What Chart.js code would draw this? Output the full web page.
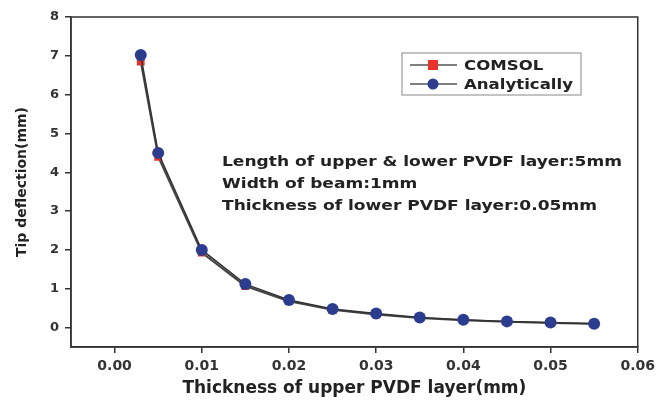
<!DOCTYPE html>
<html>
<head>
<meta charset="utf-8">
<script src="https://cdn.jsdelivr.net/npm/chart.js@4/dist/chart.umd.min.js"></script>
<style>
  html, body { margin: 0; padding: 0; background: #fff; }
  #wrap { width: 660px; height: 403px; }
</style>
</head>
<body>
<div id="wrap"><canvas id="chart" width="660" height="403"></canvas></div>
<script>
// data
var thickness = [0.003, 0.005, 0.010, 0.015, 0.020, 0.025, 0.030, 0.035, 0.040, 0.045, 0.050, 0.055];
var comsol = [6.85, 4.40, 1.93, 1.07, 0.68, 0.46, 0.34, 0.25, 0.19, 0.15, 0.12, 0.10];
var analytic = [7.02, 4.50, 2.00, 1.12, 0.71, 0.48, 0.36, 0.26, 0.20, 0.16, 0.13, 0.10];
var xTicks = [0, 0.01, 0.02, 0.03, 0.04, 0.05, 0.06];
var yTicks = [0, 1, 2, 3, 4, 5, 6, 7, 8];
var notes = [
   "Length of upper & lower PVDF layer:5mm",
   "Width of beam:1mm",
   "Thickness of lower PVDF layer:0.05mm"
];

var FONT = "'DejaVu Sans', 'Liberation Sans', sans-serif";
var AXIS = "#333";
var RED = "#e8332b", NAVY = "#2c3c8e";

function pts(xs, ys) {
   return xs.map(function(x, i) { return { x: x, y: ys[i] }; });
}

// text drawn a bit wider than the font, like the scanned figure
function wideText(ctx, text, x, y, sx) {
   ctx.save();
   ctx.translate(x, y);
   ctx.scale(sx, 1);
   ctx.fillText(text, 0, 0);
   ctx.restore();
}

// frame, legend and the text block
var extras = {
   id: 'extras',
   afterDraw: function(chart) {
      var ctx = chart.ctx, a = chart.chartArea;
      ctx.save();
      ctx.strokeStyle = AXIS;
      ctx.lineWidth = 1.5;
      ctx.strokeRect(a.left, a.top, a.right - a.left, a.bottom - a.top);

      // legend
      var lx = 402, ly = 53, lw = 179, lh = 42;
      ctx.lineWidth = 1;
      ctx.strokeStyle = "#888";
      ctx.strokeRect(lx, ly, lw, lh);
      ctx.font = "bold 14px " + FONT;
      var legSx = 109 / ctx.measureText("Analytically").width;
      var rows = [
         { label: "COMSOL", color: RED, shape: "rect" },
         { label: "Analytically", color: NAVY, shape: "circle" }
      ];
      rows.forEach(function(r, i) {
         var cy = ly + 12 + i * 19;
         ctx.strokeStyle = "#555";
         ctx.lineWidth = 1.5;
         ctx.beginPath();
         ctx.moveTo(lx + 8, cy);
         ctx.lineTo(lx + 55, cy);
         ctx.stroke();
         ctx.fillStyle = r.color;
         if (r.shape === "rect") {
            ctx.fillRect(lx + 26, cy - 5, 10, 10);
         } else {
            ctx.beginPath();
            ctx.arc(lx + 31, cy, 5.5, 0, Math.PI * 2);
            ctx.fill();
         }
         ctx.fillStyle = "#222";
         ctx.textBaseline = "middle";
         ctx.textAlign = "left";
         wideText(ctx, r.label, lx + 62, cy + 1, legSx);
      });

      // notes
      ctx.fillStyle = "#222";
      ctx.font = "bold 14px " + FONT;
      ctx.textBaseline = "middle";
      var noteSx = 400 / ctx.measureText(notes[0]).width;
      notes.forEach(function(t, i) {
         wideText(ctx, t, 222, 162 + i * 22, noteSx);
      });
      ctx.restore();
   }
};

new Chart(document.getElementById('chart'), {
   type: 'line',
   data: {
      datasets: [{
         label: "COMSOL",
         data: pts(thickness, comsol),
         order: 1,
         borderColor: "#444",
         borderWidth: 2,
         backgroundColor: RED,
         pointStyle: "rect",
         pointRadius: 5.5,
         pointBorderWidth: 0,
         tension: 0
      }, {
         label: "Analytically",
         data: pts(thickness, analytic),
         order: 0,
         borderColor: "#333",
         borderWidth: 1.5,
         backgroundColor: NAVY,
         pointStyle: "circle",
         pointRadius: 6,
         pointBorderWidth: 0,
         tension: 0
      }]
   },
   options: {
      responsive: false,
      animation: false,
      layout: { padding: { left: 0, right: 20, top: 17, bottom: 0 } },
      plugins: {
         legend: { display: false },
         tooltip: { enabled: false }
      },
      scales: {
         x: {
            type: 'linear',
            min: -0.005,
            max: 0.06,
            afterBuildTicks: function(s) { s.ticks = xTicks.map(function(v) { return { value: v }; }); },
            afterFit: function(s) { s.height = 56; },
            grid: { drawOnChartArea: false, drawTicks: true, tickLength: 6, color: AXIS, lineWidth: 1.5 },
            border: { display: true, color: AXIS, width: 1.5 },
            ticks: {
               color: "#333",
               font: { family: FONT, size: 14, weight: 'bold' },
               padding: 5,
               maxRotation: 0,
               callback: function(v) { return v.toFixed(2); }
            },
            title: {
               display: true,
               text: "Thickness of upper PVDF layer(mm)",
               color: "#222",
               font: { family: FONT, size: 17, weight: 'bold' },
               padding: { top: 4, bottom: 4 }
            }
         },
         y: {
            type: 'linear',
            min: -0.5,
            max: 8,
            afterBuildTicks: function(s) { s.ticks = yTicks.map(function(v) { return { value: v }; }); },
            afterFit: function(s) { s.width = 71; },
            grid: { drawOnChartArea: false, drawTicks: true, tickLength: 6, color: AXIS, lineWidth: 1.5 },
            border: { display: true, color: AXIS, width: 1.5 },
            ticks: {
               color: "#333",
               font: { family: FONT, size: 13, weight: 'bold' },
               padding: 6
            },
            title: {
               display: true,
               text: "Tip deflection(mm)",
               color: "#222",
               font: { family: FONT, size: 14, weight: 'bold' },
               padding: { top: 14, bottom: 0 }
            }
         }
      }
   },
   plugins: [extras]
});
</script>
</body>
</html>
